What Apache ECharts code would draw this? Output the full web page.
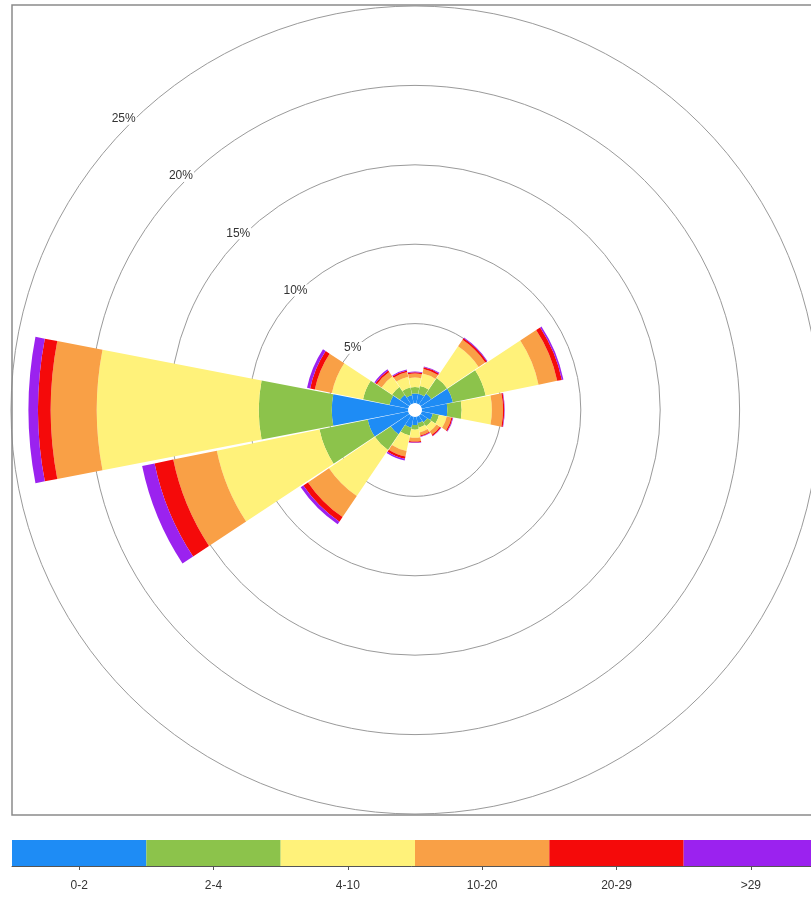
<!DOCTYPE html>
<html>
<head>
<meta charset="utf-8">
<script src="https://cdn.jsdelivr.net/npm/echarts@6/dist/echarts.min.js"></script>
<style>
  html, body { margin: 0; padding: 0; background: #fff; }
  #chart { width: 811px; height: 904px; }
</style>
</head>
<body>
<div id="chart"></div>
<script>
// wind directions, clockwise from north
const directions = ['N', 'NNE', 'NE', 'ENE', 'E', 'ESE', 'SE', 'SSE',
                    'S', 'SSW', 'SW', 'WSW', 'W', 'WNW', 'NW', 'NNW']

// speed classes and the share (%) of each direction
const speedBins = ['0-2', '2-4', '4-10', '10-20', '20-29', '>29']
const binColors = ['#1e8cf5', '#8cc34b', '#fff27a', '#f9a046', '#f50a0a', '#9b22ef']

const speed0to2   = [0.6, 0.6, 0.8, 2.0, 1.6, 0.7, 0.5, 0.4, 0.5, 0.7, 1.4, 2.6, 4.8, 1.2, 0.7, 0.5]
const speed2to4   = [0.4, 0.5, 1.2, 2.1, 0.9, 0.4, 0.3, 0.3, 0.3, 0.5, 1.2, 3.1, 4.6, 1.7, 0.6, 0.5]
const speed4to10  = [0.6, 0.8, 2.4, 3.4, 1.9, 0.5, 0.4, 0.3, 0.5, 1.0, 3.5, 6.6, 10.2, 2.0, 0.8, 0.7]
const speed10to20 = [0.25, 0.3, 0.5, 1.2, 0.7, 0.3, 0.25, 0.2, 0.25, 0.35, 1.6, 2.8, 2.9, 1.1, 0.35, 0.3]
const speed20to29 = [0.08, 0.1, 0.12, 0.3, 0.08, 0.08, 0.08, 0.06, 0.06, 0.15, 0.35, 1.2, 0.8, 0.3, 0.12, 0.1]
const speedOver29 = [0.05, 0.06, 0.05, 0.1, 0.03, 0.04, 0.03, 0.03, 0.03, 0.1, 0.2, 0.8, 0.6, 0.2, 0.08, 0.06]

const ringTicks = [0, 5, 10, 15, 20, 25]

const chart = echarts.init(document.getElementById('chart'))

const stacks = [speed0to2, speed2to4, speed4to10, speed10to20, speed20to29, speedOver29]
const roseSeries = stacks.map(function (vals, i) {
  return {
    type: 'bar',
    name: speedBins[i],
    coordinateSystem: 'polar',
    polarIndex: 0,
    stack: 'rose',
    barCategoryGap: '3%',
    data: vals,
    itemStyle: { color: binColors[i] },
    silent: true
  }
})

// colour bar under the rose
const legendSeries = {
  type: 'bar',
  xAxisIndex: 0,
  yAxisIndex: 0,
  barWidth: '100%',
  data: speedBins.map(function (b, i) {
    return { value: 1, itemStyle: { color: binColors[i] } }
  }),
  silent: true
}

const ringColors = ringTicks.map(function (t) { return t === 0 ? 'rgba(0,0,0,0)' : '#9a9a9a' })

let option = {
  backgroundColor: '#fff',
  animation: false,
  polar: [
    { center: [415, 410], radius: [7, 404] },
    // only carries the % labels, pushed a little outward along NW
    { center: [415, 410], radius: [7, 412] }
  ],
  angleAxis: [
    {
      polarIndex: 0,
      type: 'category',
      data: directions,
      startAngle: 101.25,
      clockwise: true,
      axisLine: { show: false },
      axisTick: { show: false },
      axisLabel: { show: false },
      splitLine: { show: false }
    },
    {
      polarIndex: 1,
      type: 'value',
      startAngle: 135,
      min: 0,
      max: 360,
      axisLine: { show: false },
      axisTick: { show: false },
      axisLabel: { show: false },
      splitLine: { show: false }
    }
  ],
  radiusAxis: [
    {
      polarIndex: 0,
      min: ringTicks[0],
      max: ringTicks[ringTicks.length - 1],
      interval: 5,
      axisLine: { show: false },
      axisTick: { show: false },
      axisLabel: { show: false },
      splitLine: { show: true, lineStyle: { color: ringColors, width: 1 } }
    },
    {
      polarIndex: 1,
      min: ringTicks[0],
      max: ringTicks[ringTicks.length - 1],
      interval: 5,
      axisLine: { show: false },
      axisTick: { show: false },
      splitLine: { show: false },
      axisLabel: {
        margin: 0,
        rotate: 0,
        align: 'center',
        verticalAlign: 'middle',
        fontFamily: 'Liberation Sans, Arial, sans-serif',
        fontSize: 12,
        color: '#333',
        backgroundColor: '#fff',
        padding: [0, 1],
        formatter: function (v) { return v === 0 ? '' : v + '%' }
      },
      z: 10
    }
  ],
  grid: { left: 12, top: 840, width: 806, height: 26, outerBoundsMode: 'none' },
  xAxis: {
    type: 'category',
    data: speedBins,
    axisLine: { show: true, lineStyle: { color: '#555', width: 1 } },
    axisTick: { show: true, alignWithLabel: true, length: 4, lineStyle: { color: '#555' } },
    axisLabel: {
      margin: 14,
      fontFamily: 'Liberation Sans, Arial, sans-serif',
      fontSize: 12,
      color: '#333'
    },
    splitLine: { show: false }
  },
  yAxis: { type: 'value', min: 0, max: 1, show: false },
  graphic: [
    {
      type: 'rect',
      shape: { x: 12, y: 5, width: 806, height: 810 },
      style: { fill: null, stroke: '#8a8a8a', lineWidth: 1.5 },
      silent: true,
      z: 100
    }
  ],
  series: roseSeries.concat([legendSeries])
}

chart.setOption(option)
</script>
</body>
</html>
